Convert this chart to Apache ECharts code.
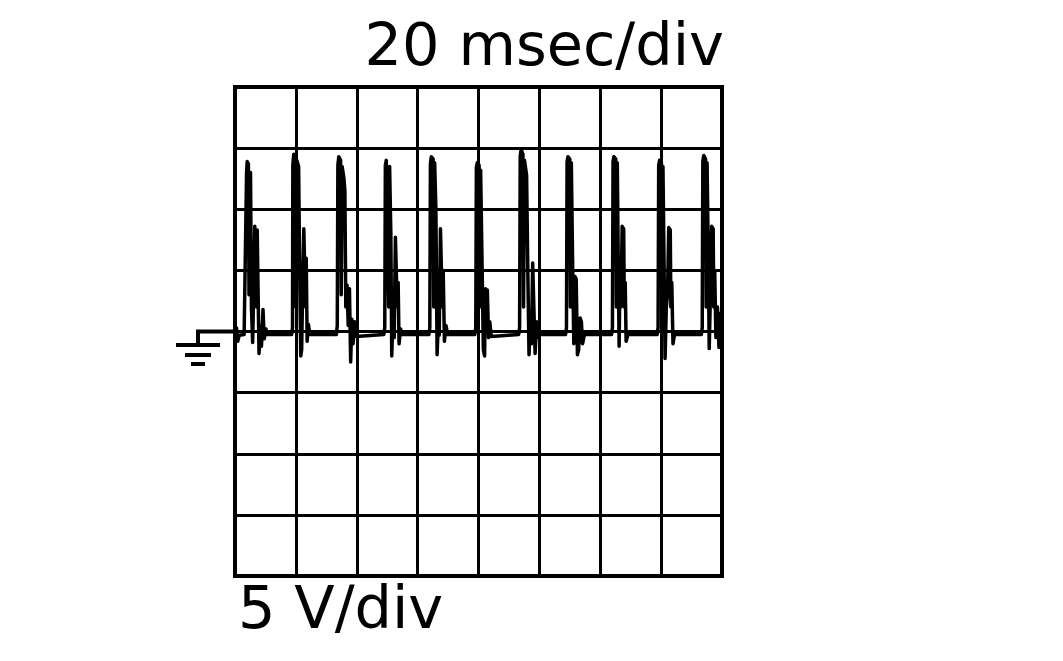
<!DOCTYPE html>
<html>
<head>
<meta charset="utf-8">
<script src="https://cdn.jsdelivr.net/npm/echarts@6/dist/echarts.min.js"></script>
<style>
  html, body { margin: 0; padding: 0; background: #fff; }
  #chart { width: 1063px; height: 661px; }
</style>
</head>
<body>
<div id="chart"></div>
<script>
// scope settings: 20 ms/div, 5 V/div, 8 x 8 divisions
const timeRange = [0, 160]
const voltRange = [-20, 20]
const timeDiv = 20
const voltDiv = 5
const timeLabel = '20 msec/div'
const voltLabel = '5 V/div'

// trace as [ms, V]
const b = -0.25 // resting level, a hair under ground
const leadIn = [[0, -0.2], [0.5, 0.3], [0.9, -0.8], [1.4, -0.3]]
const pulse1 = [[3.0, b], [3.6, -0.2], [3.8, 13.0], [4.0, 13.9], [4.4, 13.7], [4.6, 3], [4.8, 12.5], [5.1, 13.0], [5.4, 2], [5.8, -0.9], [6.2, 4], [6.5, 8.6], [6.9, 8.7], [7.1, 2], [7.3, 8.3], [7.6, 3], [7.9, -1.8], [8.3, 0.5], [8.7, -1.2], [9.2, 1.8], [9.6, -0.6], [10.2, 0.2], [10.6, b]]
const pulse2 = [[18.6, b], [18.9, 0.3], [19.0, 13.6], [19.3, 14.5], [19.8, 14.4], [20.0, 2], [20.3, 14.0], [20.9, 13.5], [21.3, 4], [21.6, -2.0], [21.9, -1.5], [22.2, 3], [22.6, 8.4], [23.0, 8.3], [23.2, 2], [23.4, 6], [23.7, -0.8], [24.1, 0.6], [24.6, b]]
const pulse3 = [[33.3, b], [33.6, 0.5], [33.8, 13.6], [34.1, 14.3], [34.7, 14.0], [34.9, 3], [35.2, 13.5], [35.8, 12.5], [36.1, 11.5], [36.4, 2], [36.8, 3.8], [37.2, 0.5], [37.6, 3.5], [38.0, -2.5], [38.4, 1.0], [38.8, -1.0], [39.3, 0.8], [39.8, -0.4], [40.3, b]]
const pulse4 = [[48.9, b], [49.2, 0.3], [49.4, 13.6], [49.7, 14.0], [50.3, 13.9], [50.5, 2], [50.8, 13.5], [51.2, 8], [51.5, -2.0], [51.9, 1.5], [52.3, -0.5], [52.7, 7.7], [53.1, 7.6], [53.3, 2], [53.6, 4], [53.9, -1.0], [54.4, 0.2], [55.0, b]]
const pulse5 = [[63.7, b], [64.0, 0.3], [64.2, 13.7], [64.5, 14.3], [65.1, 14.1], [65.3, 2], [65.6, 13.8], [66.0, 10], [66.4, -1.9], [66.8, 0.8], [67.1, -0.3], [67.5, 8.4], [67.9, 8.3], [68.1, 2], [68.4, 5], [68.8, -0.8], [69.3, 0.5], [69.9, b]]
const pulse6 = [[78.8, b], [79.1, 0.3], [79.3, 13.4], [79.6, 13.8], [80.2, 13.6], [80.4, 2], [80.7, 13.2], [81.2, 5], [81.6, -1.5], [82.0, -2.0], [82.3, 3.5], [82.6, 1], [82.9, 3.4], [83.3, -0.5], [83.7, 0.8], [84.2, -0.4], [84.8, b]]
const pulse7 = [[93.2, b], [93.5, 0.3], [93.7, 14.3], [94.0, 14.9], [94.6, 14.5], [94.8, 2], [95.1, 14.0], [95.8, 12.8], [96.2, 5], [96.6, -1.9], [97.0, 1], [97.4, -1], [97.8, 5.6], [98.2, 5.5], [98.6, -1.8], [99.1, 0.8], [99.6, -0.5], [100.2, b]]
const pulse8 = [[108.6, b], [108.9, 0.3], [109.1, 13.9], [109.4, 14.3], [110.0, 14.1], [110.2, 2], [110.5, 13.8], [110.9, 6], [111.3, -1.0], [111.7, 4.5], [112.1, 4.3], [112.5, -1.9], [112.9, -1.5], [113.4, 1.1], [113.8, 0.8], [114.2, -1.0], [114.8, b]]
const pulse9 = [[123.7, b], [124.0, 0.3], [124.2, 13.9], [124.5, 14.3], [125.1, 14.1], [125.3, 2], [125.6, 13.8], [125.9, 6], [126.2, -1.2], [126.5, 5], [126.8, 2], [127.2, 8.6], [127.7, 8.4], [127.9, 2], [128.2, 4], [128.5, -0.8], [129.1, b]]
const pulse10 = [[138.7, b], [139.0, 0.3], [139.2, 13.6], [139.5, 14.0], [140.1, 13.8], [140.3, 2], [140.6, 13.5], [140.9, 7], [141.3, -2.2], [141.7, 2], [142.1, 3], [142.5, 8.5], [143.0, 8.3], [143.2, 2], [143.5, 4], [143.9, -1.0], [144.4, b]]
const pulse11 = [[153.2, b], [153.5, 0.3], [153.7, 13.9], [154.0, 14.4], [154.6, 14.1], [154.8, 2], [155.1, 13.8], [155.5, 6], [155.8, -1.4], [156.2, 3], [156.6, 8.6], [157.1, 8.4], [157.3, 2], [157.6, 5], [158.0, -0.5], [158.5, 2], [159.0, -1.3], [159.5, 1.5], [160, -0.3]]

const trace = [].concat(leadIn, pulse1, pulse2, pulse3, pulse4, pulse5,
  pulse6, pulse7, pulse8, pulse9, pulse10, pulse11)

const chart = echarts.init(document.getElementById('chart'), null, { renderer: 'canvas' })

const labelFont = {
  fontFamily: 'DejaVu Sans',
  fontSize: 59,
  fontWeight: 'normal',
  color: '#000'
}

// shared look for both axes: no labels, black graticule
const axisBase = {
  type: 'value',
  axisLine: { show: false },
  axisTick: { show: false },
  axisLabel: { show: false },
  splitLine: { show: true, lineStyle: { color: '#000', width: 3 } }
}

chart.setOption({
  animation: false,
  backgroundColor: '#fff',
  title: [
    { text: timeLabel, right: 339, top: 20, padding: 0, textStyle: labelFont },
    { text: voltLabel, left: 238, top: 583, padding: 0, textStyle: labelFont }
  ],
  grid: {
    left: 235, top: 87, width: 487, height: 489,
    show: true, borderColor: '#000', borderWidth: 4
  },
  xAxis: { ...axisBase, min: timeRange[0], max: timeRange[1], interval: timeDiv },
  yAxis: { ...axisBase, min: voltRange[0], max: voltRange[1], interval: voltDiv },
  series: [{
    type: 'line',
    data: trace,
    showSymbol: false,
    lineStyle: { color: '#000', width: 3.5, join: 'round', cap: 'round' },
    z: 5
  }]
})

// ground marker hung off the 0 V level at the left edge
const [gx, gy] = chart.convertToPixel({ gridIndex: 0 }, [0, 0])
const stroke = { stroke: '#000', lineWidth: 4 }
const post = gx - 37
chart.setOption({
  graphic: [
    { type: 'polyline', shape: { points: [[gx, gy], [post, gy], [post, gy + 14]] }, style: stroke, z: 10 },
    { type: 'line', shape: { x1: post - 22, y1: gy + 13.5, x2: post + 22, y2: gy + 13.5 }, style: stroke, z: 10 },
    { type: 'line', shape: { x1: post - 13, y1: gy + 23.5, x2: post + 13, y2: gy + 23.5 }, style: stroke, z: 10 },
    { type: 'line', shape: { x1: post - 7, y1: gy + 32.5, x2: post + 7, y2: gy + 32.5 }, style: stroke, z: 10 }
  ]
})
</script>
</body>
</html>
